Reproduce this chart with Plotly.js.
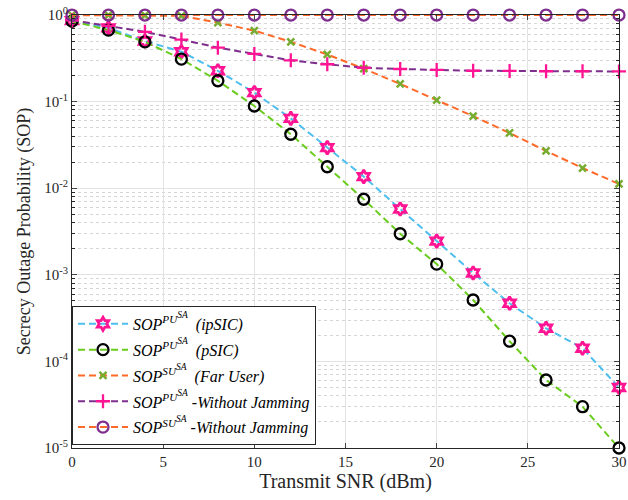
<!DOCTYPE html>
<html>
<head>
<meta charset="utf-8">
<script src="https://cdn.plot.ly/plotly-3.0.1.min.js"></script>
<style>
  html, body { margin: 0; padding: 0; background: #fff; }
  #chart { width: 628px; height: 500px; }
</style>
</head>
<body>
<div id="chart"></div>
<script>
// Transmit SNR (dBm)
const snr = [0, 2, 4, 6, 8, 10, 12, 14, 16, 18, 20, 22, 24, 26, 28, 30];

// Secrecy outage probability for each scheme
const sopPuIpsic = [0.86, 0.71, 0.50, 0.377, 0.227, 0.127, 0.064, 0.0294, 0.0136, 0.00575,
                    0.00245, 0.00105, 0.000469, 0.000241, 0.000142, 0.00005];
const sopPuPsic = [0.85, 0.67, 0.49, 0.31, 0.174, 0.089, 0.042, 0.0177, 0.00745, 0.00298,
                   0.00133, 0.000512, 0.000171, 0.000061, 0.00003, 0.00001];
const sopSuFar = [0.995, 0.995, 0.99, 0.98, 0.815, 0.66, 0.49, 0.35, 0.24, 0.16,
                  0.104, 0.068, 0.0434, 0.0269, 0.0171, 0.0112];
const sopPuNoJam = [0.87, 0.75, 0.64, 0.52, 0.42, 0.355, 0.30, 0.27, 0.246, 0.238,
                    0.232, 0.227, 0.226, 0.224, 0.224, 0.223];
const sopSuNoJam = [0.999, 0.999, 0.999, 0.999, 0.999, 0.999, 0.999, 0.999, 0.999, 0.999,
                    0.999, 0.999, 0.999, 0.999, 0.999, 0.999];

// Axis ticks
const xTicks = [0, 5, 10, 15, 20, 25, 30];
const yTickVals = [1e-5, 1e-4, 1e-3, 1e-2, 1e-1, 1];
const yTickText = ['10<sup>-5</sup>', '10<sup>-4</sup>', '10<sup>-3</sup>', '10<sup>-2</sup>', '10<sup>-1</sup>', '10<sup>0</sup>'];

// Series names (second-level superscript raised with baseline-shift)
const sa = '<span style="baseline-shift:55%;font-size:85%">SA</span>';
const names = [
  '<i>SOP<sup>PU' + sa + '</sup>  (ipSIC)</i>',
  '<i>SOP<sup>PU' + sa + '</sup>  (pSIC)</i>',
  '<i>SOP<sup>SU' + sa + '</sup>  (Far User)</i>',
  '<i>SOP<sup>PU' + sa + '</sup> -Without Jamming</i>',
  '<i>SOP<sup>SU' + sa + '</sup> -Without Jamming</i>'
];

// minor grid lines at 2..9 x 10^k
const minorVals = [];
for (let k = -5; k < 0; k++) {
  for (let m = 2; m <= 9; m++) minorVals.push(m * Math.pow(10, k));
}

const dash = '7px,4px';
const serif = 'Liberation Serif, Times New Roman, serif';

const traces = [
  {
    x: snr, y: sopPuIpsic, name: names[0], legendgroup: 'g1', mode: 'lines+markers', cliponaxis: false,
    line: { color: '#4DBEEE', width: 2, dash: dash },
    marker: { symbol: 'hexagram-open', size: 10, color: '#FF1493', line: { color: '#FF1493', width: 2.8 } }
  },
  {
    x: snr, y: sopPuPsic, name: names[1], legendgroup: 'g2', mode: 'lines+markers', cliponaxis: false,
    line: { color: '#6ACD1E', width: 2, dash: dash },
    marker: { symbol: 'circle-open', size: 11, color: '#000000', line: { color: '#000000', width: 2.3 } }
  },
  {
    x: snr, y: sopSuFar, name: names[2], legendgroup: 'g3', mode: 'lines+markers', cliponaxis: false,
    line: { color: '#FF6929', width: 2, dash: dash },
    marker: { symbol: 'x-thin-open', size: 7, color: '#77AC30', line: { color: '#77AC30', width: 2.5 } }
  },
  {
    x: snr, y: sopPuNoJam, name: names[3], legendgroup: 'g4', mode: 'lines+markers', cliponaxis: false,
    line: { color: '#7E2F8E', width: 2, dash: dash },
    marker: { symbol: 'cross-thin-open', size: 10, color: '#FF1493', line: { color: '#FF1493', width: 2.3 } }
  },
  {
    x: snr, y: sopSuNoJam, name: names[4], legendgroup: 'g5', mode: 'lines+markers', cliponaxis: false,
    line: { color: '#FF6929', width: 2, dash: dash },
    marker: { symbol: 'circle-open', size: 11, color: '#7E2F8E', line: { color: '#7E2F8E', width: 2.3 } }
  }
];

const layout = {
  width: 628, height: 500,
  margin: { l: 72, r: 9, t: 15, b: 52 },
  paper_bgcolor: '#ffffff', plot_bgcolor: '#ffffff',
  font: { family: serif, size: 15, color: '#262626' },
  showlegend: true,
  legend: {
    x: 0.0, y: 0.007, xanchor: 'left', yanchor: 'bottom',
    bgcolor: '#ffffff', bordercolor: '#262626', borderwidth: 1,
    font: { family: serif, size: 16, color: '#000000' },
    itemwidth: 50, tracegroupgap: 2
  },
  xaxis: {
    range: [0, 30], tickvals: xTicks, ticks: 'inside', ticklen: 5,
    showline: true, linecolor: '#262626', linewidth: 1, mirror: 'ticks',
    showgrid: true, gridcolor: '#E3E3E3', gridwidth: 1, zeroline: false,
    tickfont: { family: serif, size: 15, color: '#262626' },
    title: { text: 'Transmit SNR (dBm)', font: { family: serif, size: 20, color: '#262626' }, standoff: 4 }
  },
  yaxis: {
    type: 'log', range: [-5, 0],
    tickvals: yTickVals, ticktext: yTickText, ticks: 'inside', ticklen: 5,
    showline: true, linecolor: '#262626', linewidth: 1, mirror: 'ticks',
    showgrid: true, gridcolor: '#E3E3E3', gridwidth: 1, zeroline: false,
    tickfont: { family: serif, size: 15, color: '#262626' },
    minor: {
      tickmode: 'array', tickvals: minorVals, ticks: 'inside', ticklen: 3,
      tickcolor: '#262626', showgrid: true, gridcolor: '#D5D5D5', griddash: 'dot', gridwidth: 1
    },
    title: { text: 'Secrecy Outage Probability (SOP)', font: { family: serif, size: 18, color: '#262626' }, standoff: 8 }
  }
};

Plotly.newPlot('chart', traces, layout, { displayModeBar: false, staticPlot: true });
</script>
</body>
</html>
